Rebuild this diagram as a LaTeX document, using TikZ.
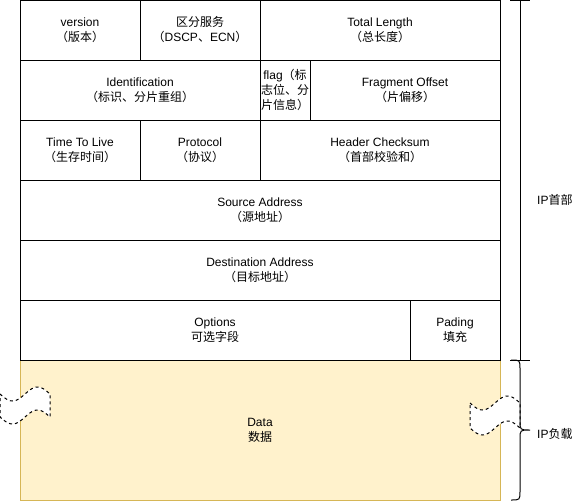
\documentclass[tikz,border=0pt]{standalone}
\usepackage{fontspec}
\setmainfont{Liberation Sans}
\newfontfamily\cjkfont{Noto Sans CJK SC}
\newcommand{\zh}[1]{{\cjkfont #1}}
\definecolor{datafill}{HTML}{FFF2CC}
\definecolor{dataline}{HTML}{D6B656}
\begin{document}
\begin{tikzpicture}[x=1pt,y=-1pt,
  every node/.style={font=\fontsize{12}{15}\selectfont},
  cell/.style={draw=black, line width=1pt, inner sep=0pt, align=center},
  wave/.style={draw=black, fill=white, line width=1pt, dash pattern=on 3pt off 3pt},
  brace/.style={draw=black, line width=1pt},
  lbl/.style={inner sep=0pt, anchor=west}]
\useasboundingbox (0,0) rectangle (581,501);
% data box
\node[cell, draw=dataline, fill=datafill, minimum width=480pt, minimum height=140pt] (data) at (260,430) {Data\\\zh{数据}};
% row 1
\node[cell, minimum width=120pt, minimum height=60pt] (ver) at (80,30) {version\\\zh{（版本）}};
\node[cell, minimum width=120pt, minimum height=60pt] (tos) at (200,30) {\zh{区分服务}\\\zh{（}DSCP\zh{、}ECN\zh{）}};
\node[cell, minimum width=240pt, minimum height=60pt] (tl) at (380,30) {Total Length\\\zh{（总长度）}};
% row 2
\node[cell, minimum width=240pt, minimum height=60pt] (id) at (140,90) {Identification\\\zh{（标识、分片重组）}};
\node[cell, minimum width=50pt, minimum height=60pt] (flag) at (285,90) {flag\zh{（标}\\\zh{志位、分}\\\zh{片信息）}};
\node[cell, minimum width=190pt, minimum height=60pt] (fo) at (405,90) {Fragment Offset\\\zh{（片偏移）}};
% row 3
\node[cell, minimum width=120pt, minimum height=60pt] (ttl) at (80,150) {Time To Live\\\zh{（生存时间）}};
\node[cell, minimum width=120pt, minimum height=60pt] (proto) at (200,150) {Protocol\\\zh{（协议）}};
\node[cell, minimum width=240pt, minimum height=60pt] (cks) at (380,150) {Header Checksum\\\zh{（首部校验和）}};
% row 4-5
\node[cell, minimum width=480pt, minimum height=60pt] (src) at (260,210) {Source Address\\\zh{（源地址）}};
\node[cell, minimum width=480pt, minimum height=60pt] (dst) at (260,270) {Destination Address\\\zh{（目标地址）}};
% row 6
\node[cell, minimum width=390pt, minimum height=60pt] (opt) at (215,330) {Options\\\zh{可选字段}};
\node[cell, minimum width=90pt, minimum height=60pt] (pad) at (455,330) {Pading\\\zh{填充}};
% wavy break marks
\draw[wave] plot[domain=0:50, samples=40, smooth] (\x,{394+7*sin(7.2*\x)})
  -- plot[domain=50:0, samples=40, smooth] (\x,{417+7*sin(7.2*\x)}) -- cycle;
\draw[wave] plot[domain=470:520, samples=40, smooth] (\x,{403+7*sin(7.2*(\x-470))})
  -- plot[domain=520:470, samples=40, smooth] (\x,{428+7*sin(7.2*(\x-470))}) -- cycle;
% header bracket
\coordinate (ht) at (520,0);
\coordinate (hb) at (520,360);
\draw[brace] (510,0) -- (530,0) (ht) -- (hb) (510,360) -- (530,360);
\node[lbl] (hlabel) at (537,200) {IP\zh{首部}};
% payload brace
\draw[brace] (511,360) .. controls (520,360) .. (520,369) -- (520,421)
  .. controls (520,430) .. (530,430) .. controls (520,430) .. (520,439)
  -- (520,491) .. controls (520,500) .. (511,500);
\node[lbl] (plabel) at (537,434) {IP\zh{负载}};
\end{tikzpicture}
\end{document}
